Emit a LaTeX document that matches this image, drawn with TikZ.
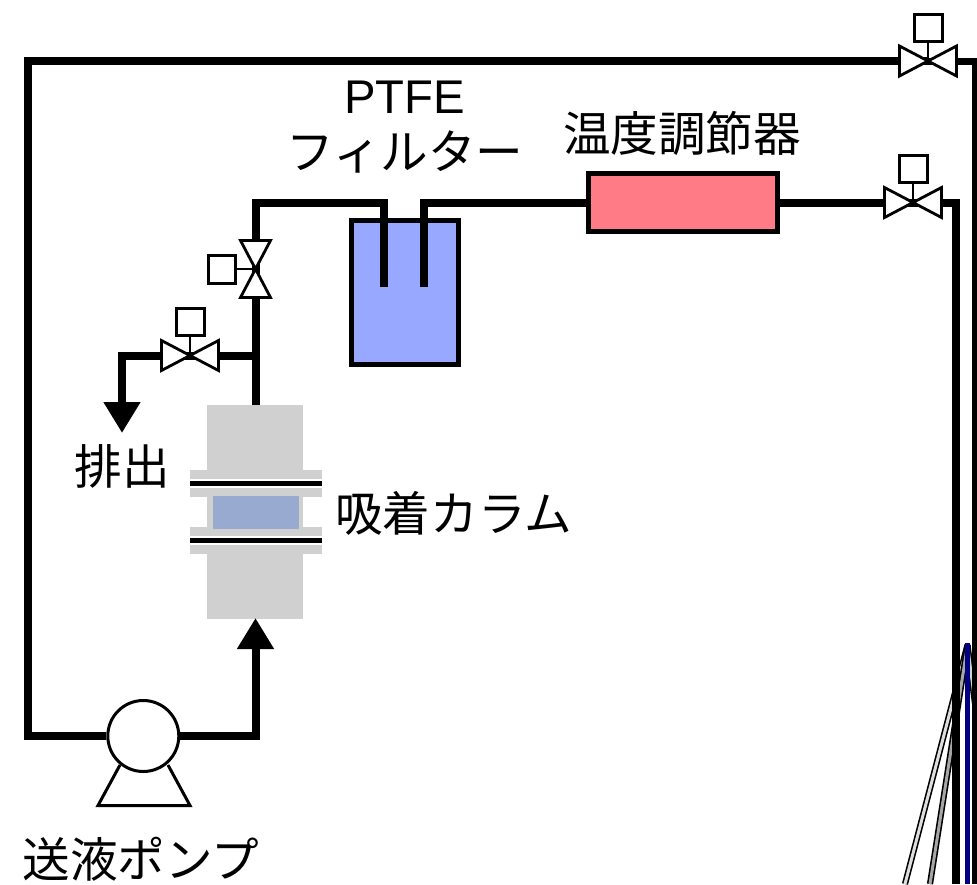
\documentclass[tikz,border=0pt]{standalone}
\usepackage{fontspec}
\setmainfont{Liberation Sans}
\newfontfamily\jpfont{Noto Sans CJK JP}
\usetikzlibrary{arrows.meta}
\definecolor{colgray}{HTML}{D0D0D0}
\definecolor{colblue}{HTML}{98AAD0}
\definecolor{filterblue}{HTML}{99A8FF}
\definecolor{heaterred}{HTML}{FF7B85}
\definecolor{needleblue}{HTML}{000080}
\tikzset{
  pipe/.style={line width=8pt,draw=black,line join=miter},
  pipearrow/.style={pipe,-{Triangle[length=31pt,width=35pt]}},
  jplabel/.style={font=\jpfont\fontsize{47.6}{54}\selectfont,inner sep=0pt,align=center},
  capillary/.style={line width=1.6pt,draw=black,double=#1,double distance=3pt},
  grayblock/.style={fill=colgray,draw=none},
  pics/valveh/.style={code={
    \draw[line width=2.8pt,fill=white,line join=miter] (-28.5,-15) -- (28.5,15) -- (28.5,-15) -- (-28.5,15) -- cycle;
    \draw[line width=2.8pt] (0,0) -- (0,-20);
    \draw[line width=3pt,fill=white] (-14,-20) rectangle (14,-47);
  }},
  pics/valvev/.style={code={
    \draw[line width=2.8pt,fill=white,line join=miter] (-15,-28.5) -- (15,28.5) -- (-15,28.5) -- (15,-28.5) -- cycle;
    \draw[line width=2.8pt] (0,0) -- (-20,0);
    \draw[line width=3pt,fill=white] (-20,-14) rectangle (-47.5,14);
  }}
}
\begin{document}
\begin{tikzpicture}[x=1pt,y=-1pt]
\useasboundingbox (0,0) rectangle (977,884);
% named points
\coordinate (tl) at (28,61);
\coordinate (bl) at (28,736);
\coordinate (vtop) at (928,61);
\coordinate (rtop) at (975.5,61);
\coordinate (rbot) at (975.5,884);
\coordinate (vmid) at (913,202.5);
\coordinate (rmid) at (956,202.5);
\coordinate (rmidbot) at (956,884);
\coordinate (vcol) at (255.5,269);
\coordinate (vwaste) at (190,355.5);
\coordinate (tee) at (255.5,355.5);
\coordinate (corner) at (255.5,202.5);
\coordinate (coltop) at (255.5,405);
\coordinate (wastecorner) at (122,355.5);
\coordinate (wastetip) at (122,433);
\coordinate (pumpend) at (252,736);
\coordinate (pumpr) at (255.5,740);
\coordinate (coltip) at (255.5,618);
\coordinate (tube1top) at (383.5,202.5);
\coordinate (tube1bot) at (383.5,287);
\coordinate (tube2top) at (424,199);
\coordinate (tube2bot) at (424,287);
\coordinate (tube2out) at (428,202.5);
\coordinate (tip) at (967.5,645);
\coordinate (cap1) at (905,884);
\coordinate (cap2) at (930,884);
\coordinate (cap3) at (979,735);
\coordinate (needlebot) at (967.5,884);
\coordinate (needletop) at (967.5,643);

% capillaries (under the pipes)
\draw[capillary=black!13] (tip) -- (cap1);
\draw[capillary=black!35] (tip) -- (cap2);
\draw[capillary=colgray] (tip) -- (cap3);
\draw[line width=4.5pt,draw=needleblue] (needletop) -- (needlebot);

% column
\fill[grayblock] (207,405) rectangle (303,470);
\fill[grayblock] (190,470) rectangle (322,479);
\fill[grayblock] (190,488) rectangle (322,497);
\fill[grayblock] (207,497) rectangle (303,527);
\fill[grayblock] (190,527) rectangle (322,536);
\fill[grayblock] (190,545) rectangle (322,554);
\fill[grayblock] (207,554) rectangle (303,619);
\fill[colblue] (213,496) rectangle (299,529);
\fill[black] (190,481) rectangle (322,485.5);
\fill[black] (190,538) rectangle (322,543);
\node[inner sep=0pt,minimum width=132pt,minimum height=214pt] (column) at (256,512) {};

% filter vessel and heater
\node[line width=4.7pt,draw=black,fill=filterblue,inner sep=0pt,minimum width=107pt,minimum height=144pt] (filter) at (404.8,292.6) {};
\node[line width=5pt,draw=black,fill=heaterred,inner sep=0pt,minimum width=189.5pt,minimum height=58pt] (heater) at (683,202.5) {};

% pump
\coordinate (pl) at (120,765);
\coordinate (pr) at (168,765);
\draw[line width=3pt,fill=white,line join=miter] (pl) -- (98,805.5) -- (190,805.5) -- (pr);
\node[draw=black,line width=3pt,fill=white,circle,minimum size=71pt,inner sep=0pt] (pump) at (143.3,736) {};

% pipes
\draw[pipe] (pump.west) -- (bl) -- (tl) -- (vtop);
\draw[line width=7pt,line join=miter] (vtop) -- (rtop) -- (rbot);
\draw[pipe] (pump.east) -- (pumpend);
\draw[pipearrow] (pumpr) -- (coltip);
\draw[pipe] (coltop) -- (corner) -- (tube1top) -- (tube1bot);
\draw[pipe] (tube2top) -- (tube2bot);
\draw[pipe] (tube2out) -- (heater.west);
\draw[pipe] (heater.east) -- (vmid);
\draw[pipe] (vmid) -- (rmid) -- (rmidbot);
\draw[pipe] (tee) -- (wastecorner) -- +(0,4pt);
\draw[pipearrow] (wastecorner) -- (wastetip);

% valves
\pic at (vtop) {valveh};
\pic at (vmid) {valveh};
\pic at (vwaste) {valveh};
\pic at (vcol) {valvev};

% labels
\node[inner sep=0pt,font=\fontsize{47.3}{54}\selectfont] (lptfe) at (404.5,97.5) {PTFE};
\node[jplabel] (lfilter) at (405,152) {フィルター};
\node[jplabel] (lheater) at (682,133.5) {温度調節器};
\node[jplabel] (lwaste) at (122,466.5) {排出};
\node[jplabel] (lcolumn) at (453.5,513) {吸着カラム};
\node[jplabel] (lpump) at (141,859.5) {送液ポンプ};
\end{tikzpicture}
\end{document}
